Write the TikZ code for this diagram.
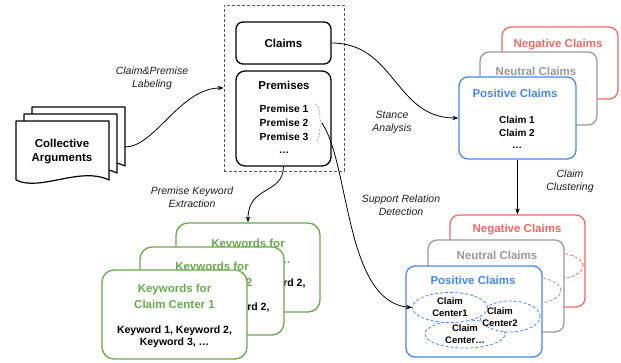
\documentclass[tikz,border=0pt]{standalone}
\usepackage{fontspec}
\setmainfont{Liberation Sans}
\usetikzlibrary{arrows.meta,shapes.geometric}
\definecolor{cblue}{RGB}{74,134,232}
\definecolor{cred}{RGB}{234,107,102}
\definecolor{cgray}{RGB}{153,153,153}
\definecolor{cgreen}{RGB}{106,168,79}
\definecolor{cdash}{RGB}{90,90,90}
\definecolor{clbl}{RGB}{30,30,30}
\begin{document}
\begin{tikzpicture}[x=1pt,y=-1pt,
  rbox/.style={draw, fill=white, line width=1.3pt, rectangle, rounded corners=9pt, inner sep=0pt},
  kbox/.style={rbox, draw=cgreen, rounded corners=12pt},
  docst/.style={draw, fill=white, line width=1.2pt, line join=round},
  ttl/.style={font=\fontsize{11.5}{14}\selectfont\bfseries, align=center, inner sep=0pt},
  kwt/.style={font=\fontsize{11.5}{16}\selectfont\bfseries, align=center, inner sep=0pt, text=cgreen},
  itm/.style={font=\fontsize{10.3}{13.7}\selectfont\bfseries, align=center, inner sep=0pt},
  clm/.style={font=\fontsize{10}{12.5}\selectfont\bfseries, align=center, inner sep=0pt},
  kwb/.style={font=\fontsize{10.5}{12}\selectfont\bfseries, align=center, inner sep=0pt},
  lbl/.style={font=\fontsize{10.5}{13}\selectfont\itshape, align=center, inner sep=0pt, text=clbl},
  ell/.style={ellipse, draw=cblue, fill=white, dash pattern=on 3pt off 2pt, line width=0.8pt, inner sep=0pt,
    font=\fontsize{9.5}{12}\selectfont\bfseries, align=center},
  ellt/.style={font=\fontsize{9.5}{12}\selectfont\bfseries, align=center, inner sep=0pt},
  bell/.style={ellipse, dash pattern=on 3pt off 2pt, line width=0.8pt, inner sep=0pt, minimum width=60pt, minimum height=27pt},
  conn/.style={line width=0.8pt, -{Stealth[length=6pt,width=4.5pt]}}
]
\useasboundingbox (0,0) rectangle (621,362);

% Collective arguments (document stack)
\foreach \dx/\dy in {16/-14, 8/-7, 0/0}{
  \draw[docst, shift={(\dx,\dy)}] (16,121) -- (109,121) -- (109,180)
     .. controls (80,166) and (40,192) .. (16,180) -- cycle;
}
\node[ttl] (coll) at (62,152) {Collective\\Arguments};
\coordinate (collr) at (125,147);

% dashed group
\node[draw=cdash, dash pattern=on 3pt off 2pt, line width=0.7pt, minimum width=120pt, minimum height=166pt, inner sep=0pt] (dbox) at (284,88) {};
\node[rbox, rounded corners=7pt, minimum width=95pt, minimum height=42pt, font=\fontsize{11.5}{14}\selectfont\bfseries] (claims) at (283.5,43) {Claims};
\node[rbox, minimum width=95pt, minimum height=95pt] (prem) at (283.5,118.5) {};
\node[ttl] (premt) at (284,85) {Premises};
\node[itm] (plist) at (284,129.5) {Premise 1\\Premise 2\\Premise 3\\…};
\draw[cgray, dash pattern=on 2pt off 1.5pt, line width=0.6pt] (315,104) .. controls (322,106) and (318,121) .. (322,123)
   .. controls (318,125) and (322,140) .. (315,142);
\coordinate (brtip) at (322,123);

% upper claim cards
\node[rbox, draw=cred, minimum width=116pt, minimum height=72pt] (uneg) at (560,63) {};
\node[ttl, text=cred] (unegt) at (558,45) {Negative Claims};
\node[rbox, draw=cgray, minimum width=117pt, minimum height=73pt] (uneu) at (538.5,88.5) {};
\node[ttl, text=cgray] (uneut) at (536,71) {Neutral Claims};
\node[rbox, draw=cblue, minimum width=117pt, minimum height=82pt] (upos) at (517.5,118) {};
\node[ttl, text=cblue] (upost) at (515,93) {Positive Claims};
\node[clm] (ulist) at (517,132.5) {Claim 1\\Claim 2\\…};

% lower claim cards
\node[rbox, draw=cred, minimum width=135pt, minimum height=92pt] (lneg) at (517.5,261) {};
\node[bell, draw=cred] (lnege) at (553,266) {};
\node[ttl, text=cred] (lnegt) at (517,230) {Negative Claims};
\node[rbox, draw=cgray, minimum width=136pt, minimum height=92pt] (lneu) at (496,286) {};
\node[bell, draw=cgray] (lneue) at (531,290.5) {};
\node[ttl, text=cgray] (lneut) at (497,255) {Neutral Claims};
\node[rbox, draw=cblue, minimum width=136pt, minimum height=91pt] (lpos) at (474,311.5) {};
\node[ttl, text=cblue] (lpost) at (473,280) {Positive Claims};
\node[ell, minimum width=80pt, minimum height=28pt] (e3) at (465,334) {Claim\\Center…};
\node[ell, minimum width=60pt, minimum height=31pt] (e2) at (510,316.5) {};
\node[ellt] (e2t) at (500,317) {Claim\\Center2};
\node[ell, minimum width=75pt, minimum height=30pt] (e1) at (450,307.5) {Claim\\Center1};

% keyword cards
\node[kbox, minimum width=144pt, minimum height=89pt] (kw3) at (248,267.5) {};
\node[kwt] (kw3t) at (248,251) {Keywords for\\Claim Center …};
\node[kwb] (kw3b) at (248,290) {Keyword 1, Keyword 2,\\Keyword 3, …};
\node[kbox, minimum width=144pt, minimum height=88pt] (kw2) at (212,291) {};
\node[kwt] (kw2t) at (212,274) {Keywords for\\Claim Center 2};
\node[kwb] (kw2b) at (212,314) {Keyword 1, Keyword 2,\\Keyword 3, …};
\node[kbox, minimum width=145pt, minimum height=89pt] (kw1) at (174.5,314.5) {};
\node[kwt] (kw1t) at (174.5,296) {Keywords for\\Claim Center 1};
\node[kwb] (kw1b) at (174.5,337) {Keyword 1, Keyword 2,\\Keyword 3, …};

% connectors
\draw[conn] (collr) .. controls (155,147) and (180,88) .. (dbox.west);
\draw[conn] (claims.east) .. controls (395,43) and (395,118) .. (upos.west);
\draw[conn] (prem.south) .. controls (283,195) and (248,185) .. (kw3.north);
\draw[conn] (brtip) .. controls (350,165) and (345,302) .. (e1.west);
\draw[conn] (upos.south) -- (lneg.north);

% labels
\node[lbl] (l1) at (152,78.5) {Claim\&Premise\\Labeling};
\node[lbl] (l2) at (392,122.5) {Stance\\Analysis};
\node[lbl] (l3) at (570,181.5) {Claim\\Clustering};
\node[lbl] (l4) at (192,197) {Premise Keyword\\Extraction};
\node[lbl] (l5) at (401,205.5) {Support Relation\\Detection};
\end{tikzpicture}
\end{document}
